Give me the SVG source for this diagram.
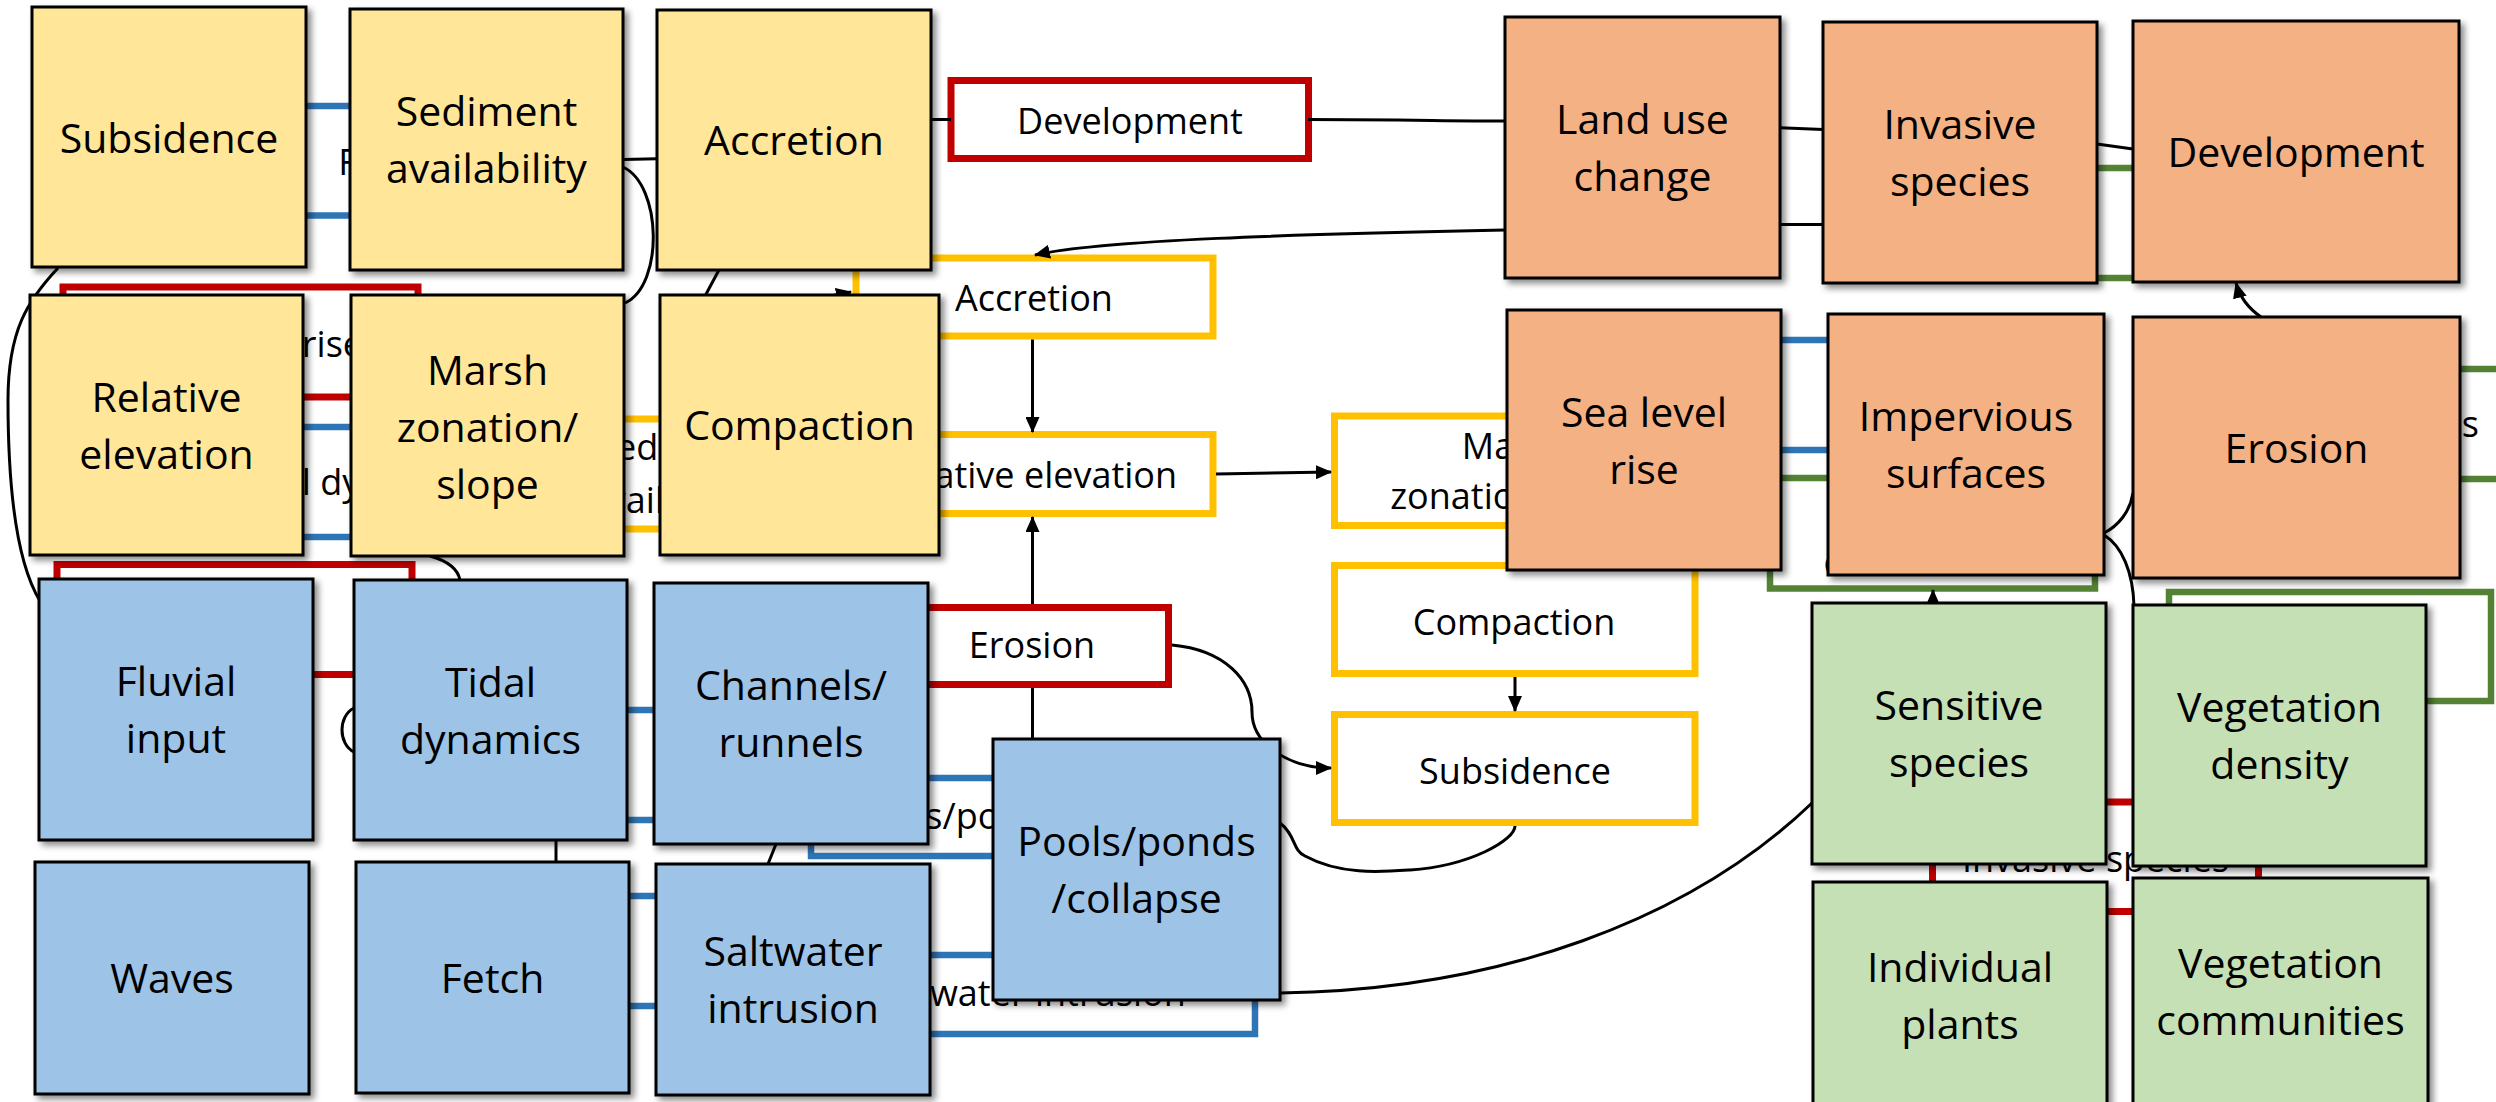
<svg xmlns="http://www.w3.org/2000/svg" width="2496" height="1102" viewBox="0 0 2496 1102">
  <defs>
    <filter id="shadow" x="-10%" y="-10%" width="130%" height="130%">
      <feDropShadow dx="4" dy="4" stdDeviation="3" flood-color="#000" flood-opacity="0.45"/>
    </filter>
    <marker id="arrow" markerUnits="userSpaceOnUse" markerWidth="16" markerHeight="14" refX="15" refY="7" orient="auto">
      <path d="M0,0 L16,7 L0,14 z" fill="#000"/>
    </marker>
    <style>
      text { font-family: "Open Sans", "Liberation Sans", sans-serif; fill: #000; text-anchor: middle; }
      .node rect { stroke: #000; stroke-width: 3; filter: url(#shadow); }
      .node text { font-size: 41px; }
      .yel rect { fill: #FFE699; }
      .blu rect { fill: #9DC3E6; }
      .org rect { fill: #F4B183; }
      .grn rect { fill: #C5E0B4; }
      .lbl rect { fill: #fff; stroke-width: 7; }
      .lbl text { font-size: 36px; }
      .lr rect { stroke: #C00000; }
      .ly rect { stroke: #FFC000; }
      .lb rect { stroke: #2E75B6; stroke-width: 6.5; }
      .lg rect { stroke: #548235; stroke-width: 6.5; }
      #connectors path { fill: none; stroke: #000; stroke-width: 3; }
      #connectors .arr { marker-end: url(#arrow); }
    </style>
  </defs>

  <rect width="2496" height="1102" fill="#fff"/>

  <!-- label boxes (outlined) -->
  <g id="lbl-fluvial" class="lbl lb"><rect x="262" y="106" width="356" height="109.5"/><text x="440" y="175">Fluvial input</text></g>
  <g id="lbl-sealevel" class="lbl lr"><rect x="63" y="287" width="355" height="110"/><text x="363" y="357" style="text-anchor:end">Sea level rise</text></g>
  <g id="lbl-tidal" class="lbl lb"><rect x="177" y="427" width="356" height="110"/><text x="355" y="495">Tidal dynamics</text></g>
  <g id="lbl-red2" class="lbl lr"><rect x="57" y="564.5" width="355" height="110"/></g>
  <g id="lbl-blue2" class="lbl lb"><rect x="460" y="710" width="356" height="110"/></g>
  <g id="lbl-blue3" class="lbl lb"><rect x="462" y="896" width="356" height="110"/></g>
  <g id="lbl-sediment" class="lbl ly"><rect x="498" y="419" width="356" height="110"/><text x="676" y="460">Sediment</text><text x="676" y="513">availability</text></g>
  <g id="lbl-development" class="lbl lr"><rect x="951" y="80.5" width="357.5" height="78"/><text x="1130" y="134">Development</text></g>
  <g id="lbl-accretion" class="lbl ly"><rect x="856" y="258" width="357" height="78"/><text x="1034" y="311">Accretion</text></g>
  <g id="lbl-relelev" class="lbl ly"><rect x="856" y="434.5" width="357" height="79"/><text x="1030" y="488">Relative elevation</text></g>
  <g id="lbl-erosion" class="lbl lr"><rect x="895.5" y="607.5" width="273" height="77"/><text x="1032" y="658">Erosion</text></g>
  <g id="lbl-pools" class="lbl lb"><rect x="811" y="778" width="290" height="78"/><text x="956" y="828.5">Pools/ponds</text></g>
  <g id="lbl-saltwater" class="lbl lb"><rect x="799" y="955" width="456" height="79"/><text x="1027" y="1006">Saltwater intrusion</text></g>
  <g id="lbl-marsh" class="lbl ly"><rect x="1334.5" y="416" width="360.5" height="109.5"/><text x="1515" y="459">Marsh</text><text x="1515" y="509">zonation/slope</text></g>
  <g id="lbl-compaction" class="lbl ly"><rect x="1334.5" y="565.5" width="360.5" height="108"/><text x="1514" y="635">Compaction</text></g>
  <g id="lbl-subsidence" class="lbl ly"><rect x="1334.5" y="714.5" width="360.5" height="108"/><text x="1515" y="784">Subsidence</text></g>
  <g id="lbl-green1" class="lbl lg"><rect x="1900" y="168" width="356" height="110"/></g>
  <g id="lbl-blue4" class="lbl lb"><rect x="1620" y="340" width="356" height="110"/></g>
  <g id="lbl-vegcomm" class="lbl lg"><rect x="1770" y="478" width="325" height="110.5"/><text x="1932.5" y="523">Vegetation</text><text x="1932.5" y="575">communities</text></g>
  <g id="lbl-green3" class="lbl lg"><rect x="2180" y="369" width="360" height="110"/><text x="2479" y="437" style="text-anchor:end">Sensitive species</text></g>
  <g id="lbl-green4" class="lbl lg"><rect x="2169" y="592" width="322" height="109"/></g>
  <g id="lbl-invasive" class="lbl lr"><rect x="1932.5" y="802" width="326" height="109.5"/><text x="2095.5" y="872">Invasive species</text></g>

  <!-- connectors -->
  <g id="connectors">
    <path d="M931,119.5 H951"/>
    <path d="M1308,119.5 C1400,119.5 1450,121 1505,121"/>
    <path d="M623,159.5 L657,158.7"/>
    <path d="M623,167 C662,185 664,285 625,303"/>
    <path d="M720,268 L704,298"/>
    <path class="arr" d="M760,310 L851,292"/>
    <path class="arr" d="M1505,230 C1300,234 1100,240 1035,255"/>
    <path class="arr" d="M1032.5,339.5 V432"/>
    <path class="arr" d="M1216,474 L1331,472"/>
    <path class="arr" d="M1032.5,604 V517"/>
    <path d="M1032.5,688 V740"/>
    <path class="arr" d="M1515,677 V711"/>
    <path class="arr" d="M1172,645 C1225,650 1252,680 1252,712 C1252,745 1290,768 1331,768"/>
    <path d="M1280,823 C1296,835 1292,850 1305,856 C1340,875 1380,872 1410,870 C1470,866 1515,840 1515,826"/>
    <path d="M1280,993 C1500,990 1690,920 1812,803"/>
    <path d="M58,268 C28,300 8,330 8,400 C8,480 15,560 40,601"/>
    <path d="M430,556 C448,561 458,570 460,580"/>
    <path d="M354,708 C338,716 338,744 354,752"/>
    <path d="M556,840 V862"/>
    <path d="M776,844 L768,864"/>
    <path d="M1780,127.7 L1823,129.5"/>
    <path d="M1780,224.6 L1823,224.6"/>
    <path d="M2097,144 L2133,149"/>
    <path class="arr" d="M2261,317 C2248,308 2240,298 2236,283"/>
    <path d="M2104,533 C2118,526 2130,512 2133,493"/>
    <path d="M2104,535 C2122,546 2133,572 2134,606"/>
    <path class="arr" d="M1933,620 V590"/>
  </g>

  <!-- marsh / sediment nodes -->
  <g id="n-subsidence" class="node yel"><rect x="32" y="7" width="274" height="260"/><text x="169" y="152.5">Subsidence</text></g>
  <g id="n-sediment" class="node yel"><rect x="350" y="9" width="273" height="261"/><text x="486.5" y="126">Sediment</text><text x="486.5" y="183">availability</text></g>
  <g id="n-accretion" class="node yel"><rect x="657" y="10" width="274" height="260"/><text x="794" y="155">Accretion</text></g>
  <g id="n-relelev" class="node yel"><rect x="30" y="295" width="273" height="260"/><text x="166.5" y="412">Relative</text><text x="166.5" y="469">elevation</text></g>
  <g id="n-marsh" class="node yel"><rect x="351" y="295" width="273" height="261"/><text x="487.5" y="384.5">Marsh</text><text x="487.5" y="441.5">zonation/</text><text x="487.5" y="498.5">slope</text></g>
  <g id="n-compaction" class="node yel"><rect x="660" y="295" width="279" height="260"/><text x="799.5" y="440">Compaction</text></g>

  <!-- hydrology nodes -->
  <g id="n-fluvial" class="node blu"><rect x="39" y="579" width="274" height="261"/><text x="176" y="696">Fluvial</text><text x="176" y="753">input</text></g>
  <g id="n-tidal" class="node blu"><rect x="354" y="580" width="273" height="260"/><text x="490.5" y="696.5">Tidal</text><text x="490.5" y="753.5">dynamics</text></g>
  <g id="n-channels" class="node blu"><rect x="654" y="583" width="274" height="261"/><text x="791" y="700">Channels/</text><text x="791" y="757">runnels</text></g>
  <g id="n-waves" class="node blu"><rect x="35" y="862" width="274" height="232"/><text x="172" y="993">Waves</text></g>
  <g id="n-fetch" class="node blu"><rect x="356" y="862" width="273" height="231"/><text x="492.5" y="992.5">Fetch</text></g>
  <g id="n-saltwater" class="node blu"><rect x="656" y="864" width="274" height="231"/><text x="793" y="966">Saltwater</text><text x="793" y="1023">intrusion</text></g>
  <g id="n-pools" class="node blu"><rect x="993" y="739" width="287" height="261"/><text x="1136.5" y="856">Pools/ponds</text><text x="1136.5" y="913">/collapse</text></g>

  <!-- human drivers -->
  <g id="n-landuse" class="node org"><rect x="1505" y="17" width="275" height="261"/><text x="1642.5" y="134">Land use</text><text x="1642.5" y="191">change</text></g>
  <g id="n-invasive" class="node org"><rect x="1823" y="22" width="274" height="261"/><text x="1960" y="139">Invasive</text><text x="1960" y="196">species</text></g>
  <g id="n-development" class="node org"><rect x="2133" y="21" width="326" height="261"/><text x="2296" y="166.5">Development</text></g>
  <g id="n-sealevel" class="node org"><rect x="1507" y="310" width="274" height="260"/><text x="1644" y="426.5">Sea level</text><text x="1644" y="483.5">rise</text></g>
  <g id="n-impervious" class="node org"><rect x="1828" y="314" width="276" height="261"/><text x="1966" y="431">Impervious</text><text x="1966" y="488">surfaces</text></g>
  <g id="n-erosion" class="node org"><rect x="2133" y="317" width="327" height="261"/><text x="2296.5" y="462.5">Erosion</text></g>

  <!-- vegetation nodes -->
  <g id="n-sensitive" class="node grn"><rect x="1812" y="603" width="294" height="261"/><text x="1959" y="720">Sensitive</text><text x="1959" y="777">species</text></g>
  <g id="n-vegdensity" class="node grn"><rect x="2133" y="605" width="293" height="261"/><text x="2279.5" y="722">Vegetation</text><text x="2279.5" y="779">density</text></g>
  <g id="n-individual" class="node grn"><rect x="1813" y="882" width="294" height="226"/><text x="1960" y="981.5">Individual</text><text x="1960" y="1038.5">plants</text></g>
  <g id="n-vegcomm" class="node grn"><rect x="2133" y="878" width="295" height="226"/><text x="2280.5" y="977.5">Vegetation</text><text x="2280.5" y="1034.5">communities</text></g>
</svg>
